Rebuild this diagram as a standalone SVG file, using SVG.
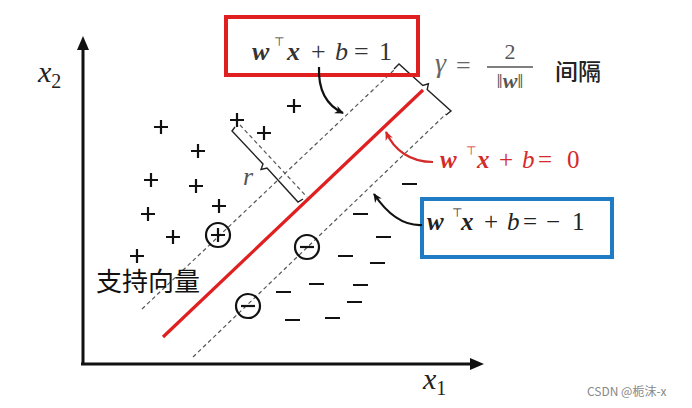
<svg xmlns="http://www.w3.org/2000/svg" width="692" height="408" viewBox="0 0 692 408">
<defs>
<marker id="ab" markerWidth="10" markerHeight="10" refX="8" refY="5" orient="auto" markerUnits="userSpaceOnUse">
<path d="M0,1 L9,5 L0,9 L2.5,5 Z" fill="#111"/>
</marker>
<marker id="ar" markerWidth="10" markerHeight="10" refX="8" refY="5" orient="auto" markerUnits="userSpaceOnUse">
<path d="M0,1 L9,5 L0,9 L2.5,5 Z" fill="#d42a2a"/>
</marker>
</defs>
<rect width="692" height="408" fill="#fff"/>

<g id="axes">
<line x1="83" y1="365" x2="83" y2="48" stroke="#111" stroke-width="3"/>
<polygon points="77,50 83,36 89,50" fill="#111"/>
<line x1="81" y1="364" x2="471" y2="364" stroke="#111" stroke-width="3"/>
<polygon points="470,358 484,364 470,370" fill="#111"/>
<text font-family="'Liberation Serif'" font-style="italic" x="38" y="82" font-size="30" fill="#222">x<tspan font-style="normal" font-size="20" dy="6">2</tspan></text>
<text font-family="'Liberation Serif'" font-style="italic" x="423" y="389" font-size="30" fill="#222">x<tspan font-style="normal" font-size="20" dy="6">1</tspan></text>
</g>

<g id="margins" stroke="#555" stroke-width="1.2" stroke-dasharray="4 3" fill="none">
<line x1="142" y1="309" x2="394" y2="70"/>
<line x1="193" y1="357" x2="446" y2="114"/>
<line x1="240" y1="125" x2="307" y2="197"/>
</g>

<g id="hyperplane">
<line x1="163" y1="337" x2="423" y2="90" stroke="#e02020" stroke-width="3.2"/>
</g>

<g id="positives" stroke="#111" stroke-width="2.2" fill="none">
<path d="M154,127h14M161,120v14 M191,151h14M198,144v14 M144,180h14M151,173v14 M189,186h14M196,179v14 M212,206h14M219,199v14 M141,214h14M148,207v14 M230,120h14M237,113v14 M257,133h14M264,126v14 M287,106h14M294,99v14 M166,237h14M173,230v14 M130,256h14M137,249v14"/>
<circle cx="218" cy="235" r="12"/>
<path d="M211,235h14M218,228v14"/>
</g>

<g id="negatives" stroke="#111" stroke-width="2.2" fill="none">
<path d="M402,184h15 M353,214h15 M376,237h15 M338,256h15 M370,263h15 M309,284h15 M353,285h15 M276,292h15 M347,302h15 M285,320h15 M325,318h15"/>
<circle cx="307" cy="247" r="12"/>
<path d="M300,247h14"/>
<circle cx="248" cy="306" r="12"/>
<path d="M241,306h14"/>
</g>

<g id="gamma-brace">
<path d="M394,69 L399,64 L422.8,85.5 L428.4,83.8 L427.2,89.5 L451,111 L446,115" stroke="#222" stroke-width="1.4" fill="none"/>
</g>

<g id="r-brace">
<path d="M235,127 L232,131 L263,164 L261,169.5 L267,168 L298,202 L303,199" stroke="#222" stroke-width="1.4" fill="none"/>
<text font-family="'Liberation Serif'" font-style="italic" x="243" y="185" font-size="26" fill="#555">r</text>
</g>

<g id="box-plus">
<rect x="226" y="17" width="192" height="58" fill="none" stroke="#e02020" stroke-width="4"/>
<text font-family="'Liberation Serif'" y="60" font-size="26" fill="#333"><tspan font-weight="bold" font-style="italic" x="252">w</tspan><tspan font-family="'DejaVu Sans'" x="274" y="46" font-size="12">⊤</tspan><tspan font-weight="bold" font-style="italic" x="287" y="60">x</tspan><tspan x="311">+</tspan><tspan font-style="italic" x="335">b</tspan><tspan x="354">=</tspan><tspan x="379">1</tspan></text>
</g>

<g id="gamma-label">
<text font-family="'Liberation Serif'" font-style="italic" x="435" y="72" font-size="28" fill="#666">γ</text>
<text font-family="'Liberation Serif'" x="456" y="74" font-size="26" fill="#666">=</text>
<text font-family="'Liberation Serif'" x="510" y="59" font-size="22" fill="#555" text-anchor="middle">2</text>
<line x1="487" y1="67" x2="533" y2="67" stroke="#555" stroke-width="1.3"/>
<text font-family="'Liberation Serif'" x="510" y="88" font-size="22" fill="#555" text-anchor="middle">‖<tspan font-weight="bold" font-style="italic">w</tspan>‖</text>
<text font-family="'Noto Sans CJK SC'" x="555" y="80" font-size="23" font-weight="500" fill="#222">间隔</text>
</g>

<g id="label-zero">
<text font-family="'Liberation Serif'" y="168" font-size="25" fill="#d42a2a"><tspan font-weight="bold" font-style="italic" x="440">w</tspan><tspan font-family="'DejaVu Sans'" x="466" y="155" font-size="12">⊤</tspan><tspan font-weight="bold" font-style="italic" x="477" y="168">x</tspan><tspan x="499">+</tspan><tspan font-style="italic" x="522">b</tspan><tspan x="538">=</tspan><tspan x="567">0</tspan></text>
</g>

<g id="box-minus">
<rect x="422" y="199" width="190" height="58" fill="none" stroke="#1e7bc4" stroke-width="4"/>
<text font-family="'Liberation Serif'" y="230" font-size="25" fill="#222"><tspan font-weight="bold" font-style="italic" x="427">w</tspan><tspan font-family="'DejaVu Sans'" x="452" y="217" font-size="12">⊤</tspan><tspan font-weight="bold" font-style="italic" x="461" y="230">x</tspan><tspan x="484">+</tspan><tspan font-style="italic" x="507">b</tspan><tspan x="523">=</tspan><tspan x="546">−</tspan><tspan x="572">1</tspan></text>
</g>

<g id="support-label">
<text font-family="'Noto Sans CJK SC'" x="96" y="291" font-size="26" fill="#111">支持向量</text>
</g>

<g id="connectors" fill="none" stroke-width="2.2">
<path d="M319,67 C318,92 328,106 343,113" stroke="#111" marker-end="url(#ab)"/>
<path d="M433,162 C410,162 394,150 386,132" stroke="#d42a2a" marker-end="url(#ar)"/>
<path d="M422,225 C402,226 386,212 374,194" stroke="#111" marker-end="url(#ab)"/>
</g>

<text font-family="'Noto Sans CJK SC'" x="587" y="396" font-size="12" fill="#888">CSDN @栀沫-x</text>
</svg>
